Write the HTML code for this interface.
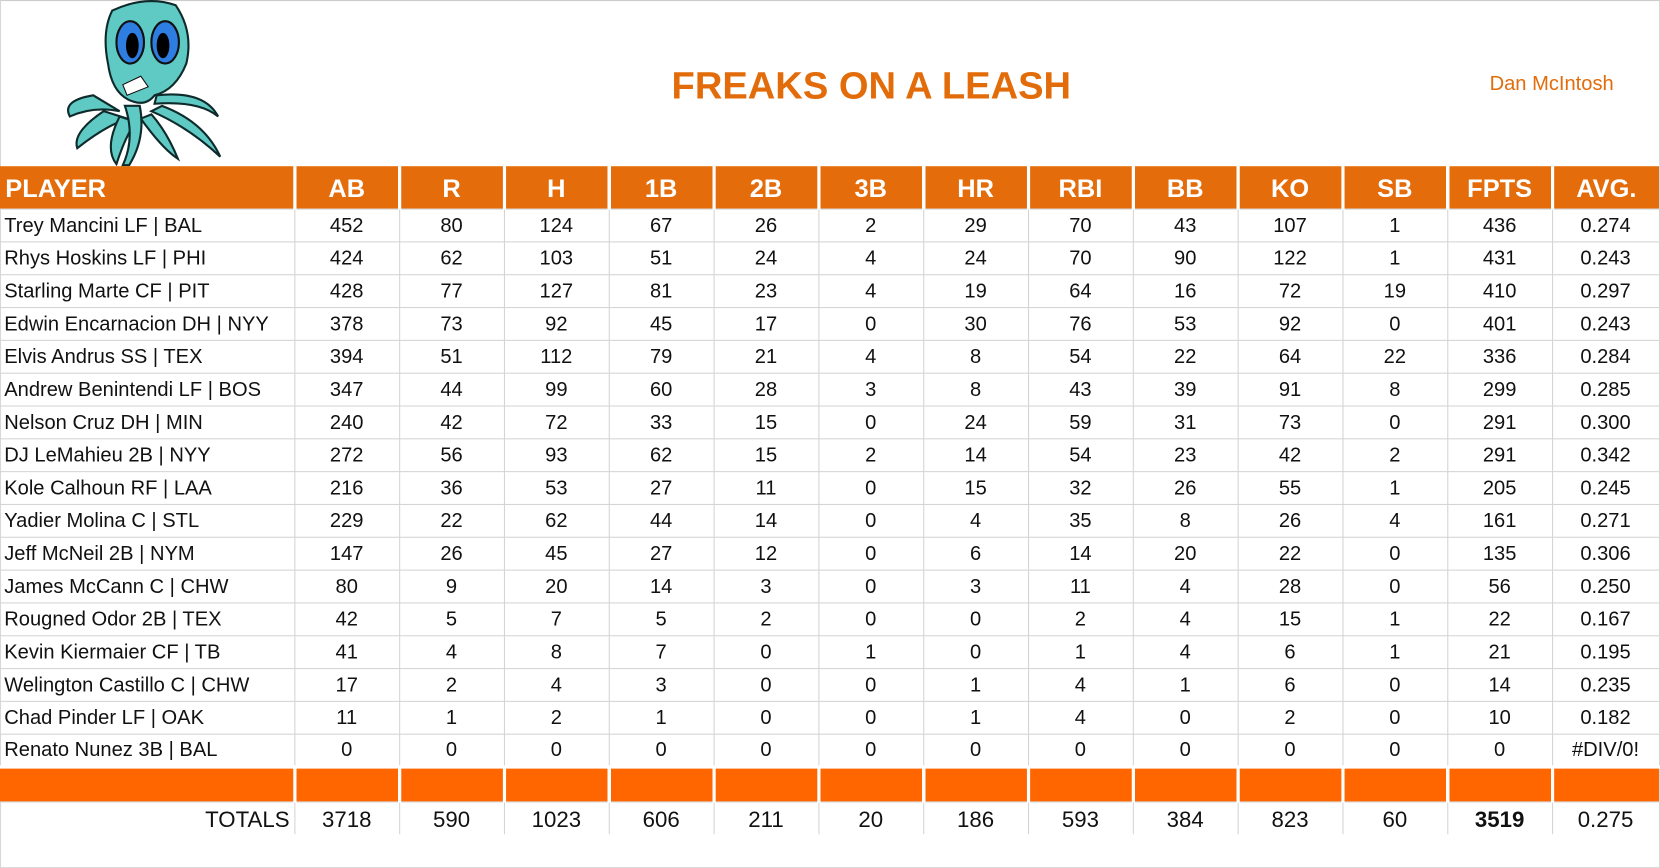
<!DOCTYPE html>
<html><head><meta charset="utf-8"><style>
html,body{margin:0;padding:0;background:#fff;overflow:hidden}
#wrap{position:absolute;left:0;top:0;width:1568px;height:820px;transform:scale(1.0587);transform-origin:0 0;font-family:"Liberation Sans",sans-serif}
.frame{position:absolute;left:0;top:0;width:1566px;height:818px;border:1px solid #d8d8d8;border-top-color:#ccc}
.title{position:absolute;left:560px;width:526px;top:60px;text-align:center;color:#E36C0A;font-weight:bold;font-size:36px}
.name{position:absolute;left:1407px;top:69px;color:#E36C0A;font-size:19px}
table{position:absolute;left:0;top:157px;border-collapse:collapse;table-layout:fixed}
td{padding:0;height:30px;border:1px solid #d4d4d4;text-align:center;font-size:19px;color:#111;white-space:nowrap;overflow:hidden;padding-top:2px;box-sizing:border-box}
tr:not(.h):not(.o) td{height:31px}
td:first-child{text-align:left;padding-left:4px;border-left:none}
tr.h td{background:#E46C0A;color:#fff;font-weight:bold;font-size:24px;height:40px;border:none;border-left:3px solid #fff;padding-top:4px}
tr.h td:first-child{border-left:none;padding-left:5px}
tr.o td{background:#FF6600;height:33px;border:none;border-left:3px solid #fff;border-top:3px solid #fff}
tr.o td:first-child{border-left:none}
tr.t td{border-bottom:none;font-size:21px;padding-top:4px}
tr.t td:first-child{text-align:right;padding-right:4px}
</style></head><body><div id="wrap">
<div class="frame"></div>
<svg style="position:absolute;left:58px;top:0" width="160" height="158" viewBox="0 0 160 158">
<g stroke="#0e2a2a" stroke-width="2" fill="#5fc9c4">
<path d="M30 90 Q0 95 8 110 Q30 100 55 105Z"/>
<path d="M40 105 Q10 125 15 140 Q40 120 62 112Z"/>
<path d="M55 110 Q40 140 52 155 Q60 130 70 115Z"/>
<path d="M75 112 Q95 140 110 150 Q100 125 85 108Z"/>
<path d="M85 105 Q120 120 150 148 Q135 115 95 100Z"/>
<path d="M88 98 Q130 95 148 110 Q135 85 90 90Z"/>
<path d="M60 100 Q70 130 58 156 L64 156 Q80 130 74 100Z"/>
<path d="M48 10 Q80 -5 108 5 Q125 30 118 60 Q108 85 88 90 Q80 100 68 96 Q48 90 44 60 Q38 30 48 10Z"/>
</g>
<ellipse cx="65" cy="40" rx="13" ry="20" fill="#2e7de0" stroke="#111" stroke-width="2"/>
<ellipse cx="98" cy="40" rx="13" ry="20" fill="#2e7de0" stroke="#111" stroke-width="2"/>
<ellipse cx="67" cy="43" rx="6" ry="12" fill="#000"/><ellipse cx="96" cy="43" rx="6" ry="12" fill="#000"/>
<path d="M58 80 L75 72 L82 82 L62 90Z" fill="#fff" stroke="#111"/>
</svg>
<div class="title">FREAKS ON A LEASH</div>
<div class="name">Dan McIntosh</div>
<table>
<colgroup><col style="width:278px"><col style="width:99px"><col style="width:99px"><col style="width:99px"><col style="width:99px"><col style="width:99px"><col style="width:99px"><col style="width:99px"><col style="width:99px"><col style="width:99px"><col style="width:99px"><col style="width:99px"><col style="width:99px"><col style="width:101px"></colgroup>
<tr class="h"><td>PLAYER</td><td>AB</td><td>R</td><td>H</td><td>1B</td><td>2B</td><td>3B</td><td>HR</td><td>RBI</td><td>BB</td><td>KO</td><td>SB</td><td>FPTS</td><td>AVG.</td></tr>
<tr><td>Trey Mancini LF | BAL</td><td>452</td><td>80</td><td>124</td><td>67</td><td>26</td><td>2</td><td>29</td><td>70</td><td>43</td><td>107</td><td>1</td><td>436</td><td>0.274</td></tr>
<tr><td>Rhys Hoskins LF | PHI</td><td>424</td><td>62</td><td>103</td><td>51</td><td>24</td><td>4</td><td>24</td><td>70</td><td>90</td><td>122</td><td>1</td><td>431</td><td>0.243</td></tr>
<tr><td>Starling Marte CF | PIT</td><td>428</td><td>77</td><td>127</td><td>81</td><td>23</td><td>4</td><td>19</td><td>64</td><td>16</td><td>72</td><td>19</td><td>410</td><td>0.297</td></tr>
<tr><td>Edwin Encarnacion DH | NYY</td><td>378</td><td>73</td><td>92</td><td>45</td><td>17</td><td>0</td><td>30</td><td>76</td><td>53</td><td>92</td><td>0</td><td>401</td><td>0.243</td></tr>
<tr><td>Elvis Andrus SS | TEX</td><td>394</td><td>51</td><td>112</td><td>79</td><td>21</td><td>4</td><td>8</td><td>54</td><td>22</td><td>64</td><td>22</td><td>336</td><td>0.284</td></tr>
<tr><td>Andrew Benintendi LF | BOS</td><td>347</td><td>44</td><td>99</td><td>60</td><td>28</td><td>3</td><td>8</td><td>43</td><td>39</td><td>91</td><td>8</td><td>299</td><td>0.285</td></tr>
<tr><td>Nelson Cruz DH | MIN</td><td>240</td><td>42</td><td>72</td><td>33</td><td>15</td><td>0</td><td>24</td><td>59</td><td>31</td><td>73</td><td>0</td><td>291</td><td>0.300</td></tr>
<tr><td>DJ LeMahieu 2B | NYY</td><td>272</td><td>56</td><td>93</td><td>62</td><td>15</td><td>2</td><td>14</td><td>54</td><td>23</td><td>42</td><td>2</td><td>291</td><td>0.342</td></tr>
<tr><td>Kole Calhoun RF | LAA</td><td>216</td><td>36</td><td>53</td><td>27</td><td>11</td><td>0</td><td>15</td><td>32</td><td>26</td><td>55</td><td>1</td><td>205</td><td>0.245</td></tr>
<tr><td>Yadier Molina C | STL</td><td>229</td><td>22</td><td>62</td><td>44</td><td>14</td><td>0</td><td>4</td><td>35</td><td>8</td><td>26</td><td>4</td><td>161</td><td>0.271</td></tr>
<tr><td>Jeff McNeil 2B | NYM</td><td>147</td><td>26</td><td>45</td><td>27</td><td>12</td><td>0</td><td>6</td><td>14</td><td>20</td><td>22</td><td>0</td><td>135</td><td>0.306</td></tr>
<tr><td>James McCann C | CHW</td><td>80</td><td>9</td><td>20</td><td>14</td><td>3</td><td>0</td><td>3</td><td>11</td><td>4</td><td>28</td><td>0</td><td>56</td><td>0.250</td></tr>
<tr><td>Rougned Odor 2B | TEX</td><td>42</td><td>5</td><td>7</td><td>5</td><td>2</td><td>0</td><td>0</td><td>2</td><td>4</td><td>15</td><td>1</td><td>22</td><td>0.167</td></tr>
<tr><td>Kevin Kiermaier CF | TB</td><td>41</td><td>4</td><td>8</td><td>7</td><td>0</td><td>1</td><td>0</td><td>1</td><td>4</td><td>6</td><td>1</td><td>21</td><td>0.195</td></tr>
<tr><td>Welington Castillo C | CHW</td><td>17</td><td>2</td><td>4</td><td>3</td><td>0</td><td>0</td><td>1</td><td>4</td><td>1</td><td>6</td><td>0</td><td>14</td><td>0.235</td></tr>
<tr><td>Chad Pinder LF | OAK</td><td>11</td><td>1</td><td>2</td><td>1</td><td>0</td><td>0</td><td>1</td><td>4</td><td>0</td><td>2</td><td>0</td><td>10</td><td>0.182</td></tr>
<tr><td>Renato Nunez 3B | BAL</td><td>0</td><td>0</td><td>0</td><td>0</td><td>0</td><td>0</td><td>0</td><td>0</td><td>0</td><td>0</td><td>0</td><td>0</td><td>#DIV/0!</td></tr>
<tr class="o"><td></td><td></td><td></td><td></td><td></td><td></td><td></td><td></td><td></td><td></td><td></td><td></td><td></td><td></td></tr>
<tr class="t"><td>TOTALS</td><td>3718</td><td>590</td><td>1023</td><td>606</td><td>211</td><td>20</td><td>186</td><td>593</td><td>384</td><td>823</td><td>60</td><td style="font-weight:bold">3519</td><td>0.275</td></tr>
</table>
</div></body></html>
